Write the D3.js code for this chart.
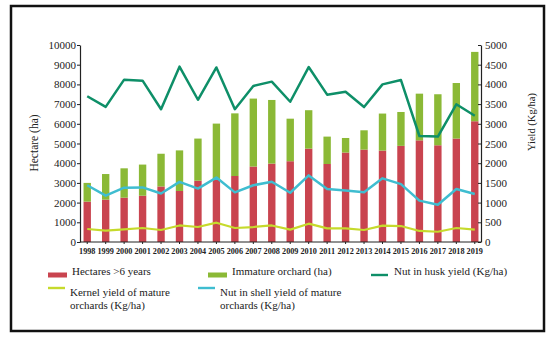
<!DOCTYPE html>
<html>
<head>
<meta charset="utf-8">
<script src="https://cdn.jsdelivr.net/npm/d3@7"></script>
<style>
  body { margin: 0; background: #fff; }
  svg { display: block; font-family: "Liberation Serif", "DejaVu Serif", serif; }
</style>
</head>
<body>
<svg id="chart" width="550" height="338"></svg>
<script>
// Data
const years = ["1998","1999","2000","2001","2002","2003","2004","2005","2006","2007","2008",
               "2009","2010","2011","2012","2013","2014","2015","2016","2017","2018","2019"];
const matureHa = [2050, 2150, 2250, 2350, 2820, 2590, 3110, 3170, 3350, 3830, 3980,
                  4100, 4740, 3960, 4540, 4690, 4640, 4880, 5160, 4910, 5250, 6130];
const immatureHa = [950, 1300, 1490, 1580, 1660, 2060, 2140, 2840, 3180, 3450, 3230,
                    2160, 1950, 1390, 740, 980, 1880, 1720, 2370, 2590, 2820, 3520];
const huskYield = [3700, 3430, 4120, 4095, 3370, 4450, 3610, 4430, 3370, 3960, 4070,
                   3560, 4440, 3740, 3815, 3425, 4000, 4110, 2690, 2675, 3495, 3205];
const shellYield = [1440, 1175, 1380, 1385, 1230, 1525, 1355, 1635, 1260, 1440, 1530,
                    1250, 1690, 1345, 1310, 1260, 1615, 1470, 1050, 945, 1345, 1220];
const kernelYield = [330, 290, 320, 355, 305, 420, 380, 490, 355, 380, 420,
                     315, 465, 345, 345, 305, 415, 405, 280, 260, 355, 315];
const leftTicks = [0, 1000, 2000, 3000, 4000, 5000, 6000, 7000, 8000, 9000, 10000];
const rightTicks = [0, 500, 1000, 1500, 2000, 2500, 3000, 3500, 4000, 4500, 5000];

const colors = {
    mature: "#c9444f",
    immature: "#8bb936",
    husk: "#0e8f68",
    shell: "#3fbdd0",
    kernel: "#c6da2c"
};

const svg = d3.select("#chart");

// outer frame
svg.append("rect")
    .attr("x", 11).attr("y", 6)
    .attr("width", 533).attr("height", 325)
    .attr("fill", "none")
    .attr("stroke", "#111")
    .attr("stroke-width", 2.5);

const plot = { left: 80, right: 481, top: 45, bottom: 242 };

const x = d3.scaleBand()
    .domain(years)
    .range([78, 484])
    .paddingInner(0.6)
    .paddingOuter(0.3);

const yLeft = d3.scaleLinear().domain([0, 10000]).range([plot.bottom, plot.top]);
const yRight = d3.scaleLinear().domain([0, 5000]).range([plot.bottom, plot.top]);

// stacked bars
const rows = years.map((yr, i) => ({ year: yr, mature: matureHa[i], immature: immatureHa[i] }));
const stack = d3.stack().keys(["mature", "immature"])(rows);

svg.append("g")
    .selectAll("g")
    .data(stack)
    .join("g")
    .attr("fill", d => colors[d.key])
    .selectAll("rect")
    .data(d => d)
    .join("rect")
    .attr("x", d => x(d.data.year))
    .attr("width", x.bandwidth())
    .attr("y", d => yLeft(d[1]))
    .attr("height", d => yLeft(d[0]) - yLeft(d[1]));

// lines on the right axis
const line = d3.line()
    .x((d, i) => x(years[i]) + x.bandwidth() / 2)
    .y(d => yRight(d));

const series = [
    { key: "kernel", values: kernelYield, width: 2.2 },
    { key: "shell", values: shellYield, width: 2.5 },
    { key: "husk", values: huskYield, width: 2.5 }
];

svg.append("g")
    .selectAll("path")
    .data(series)
    .join("path")
    .attr("d", d => line(d.values))
    .attr("fill", "none")
    .attr("stroke", d => colors[d.key])
    .attr("stroke-width", d => d.width)
    .attr("stroke-linejoin", "round");

// left axis
const leftAxis = svg.append("g")
    .attr("transform", `translate(${plot.left},0)`)
    .call(d3.axisLeft(yLeft).tickValues(leftTicks).tickSize(3).tickSizeOuter(0).tickFormat(d3.format("d")));
leftAxis.select(".domain").attr("stroke", "#222").attr("stroke-width", 1.2);
leftAxis.selectAll(".tick line").attr("stroke", "#222");
leftAxis.selectAll(".tick text")
    .attr("font-family", "Liberation Serif")
    .attr("font-size", 11)
    .attr("fill", "#222")
    .attr("x", -4);

// right axis
const rightAxis = svg.append("g")
    .attr("transform", `translate(${plot.right},0)`)
    .call(d3.axisRight(yRight).tickValues(rightTicks).tickSize(3).tickSizeOuter(0).tickFormat(d3.format("d")));
rightAxis.select(".domain").attr("stroke", "#222").attr("stroke-width", 1.2);
rightAxis.selectAll(".tick line").attr("stroke", "#222").attr("x2", -3);
rightAxis.selectAll(".tick text")
    .attr("font-family", "Liberation Serif")
    .attr("font-size", 11)
    .attr("fill", "#222")
    .attr("x", 4);

// x axis
const xAxis = svg.append("g")
    .attr("transform", `translate(0,${plot.bottom})`)
    .call(d3.axisBottom(x).tickSize(2).tickSizeOuter(0));
xAxis.select(".domain").attr("stroke", "#222").attr("d", `M${plot.left},0H${plot.right}`);
xAxis.selectAll(".tick line").attr("stroke", "#222");
xAxis.selectAll(".tick text")
    .attr("font-family", "Liberation Serif")
    .attr("font-size", 8.2)
    .attr("font-weight", "bold")
    .attr("fill", "#222")
    .attr("y", 6);

// axis titles
svg.append("text")
    .attr("transform", "translate(38,143) rotate(-90)")
    .attr("text-anchor", "middle")
    .attr("font-size", 11.5)
    .attr("fill", "#222")
    .text("Hectare (ha)");

svg.append("text")
    .attr("transform", "translate(535,122) rotate(-90)")
    .attr("text-anchor", "middle")
    .attr("font-size", 10.5)
    .attr("fill", "#222")
    .text("Yield (Kg/ha)");

// legend
const legendItems = [
    { key: "mature", kind: "bar", lines: ["Hectares >6 years"], x: 48, y: 275 },
    { key: "immature", kind: "bar", lines: ["Immature orchard (ha)"], x: 208, y: 275 },
    { key: "husk", kind: "line", lines: ["Nut in husk yield (Kg/ha)"], x: 371, y: 275 },
    { key: "kernel", kind: "line", lines: ["Kernel yield of mature", "orchards (Kg/ha)"], x: 48, y: 288 },
    { key: "shell", kind: "line", lines: ["Nut in shell yield of mature", "orchards (Kg/ha)"], x: 198, y: 288 }
];

const legend = svg.append("g")
    .selectAll("g")
    .data(legendItems)
    .join("g")
    .attr("transform", d => `translate(${d.x},${d.y})`);

legend.append("rect")
    .attr("x", 0)
    .attr("y", d => d.kind === "bar" ? -2.5 : -1.2)
    .attr("width", d => d.kind === "bar" ? 19 : 17)
    .attr("height", d => d.kind === "bar" ? 5 : 2.4)
    .attr("fill", d => colors[d.key]);

legend.append("text")
    .attr("x", d => d.kind === "bar" ? 24 : (d.lines.length > 1 ? 22 : 23))
    .attr("y", d => d.lines.length > 1 ? 8 : 0)
    .attr("font-size", 11)
    .attr("fill", "#222")
    .selectAll("tspan")
    .data(d => d.lines.map((t, i) => ({ t, i, x: d.kind === "bar" ? 24 : (d.lines.length > 1 ? 22 : 23) })))
    .join("tspan")
    .attr("x", d => d.x)
    .attr("dy", d => d.i === 0 ? 0 : 13)
    .text(d => d.t);
</script>
</body>
</html>
